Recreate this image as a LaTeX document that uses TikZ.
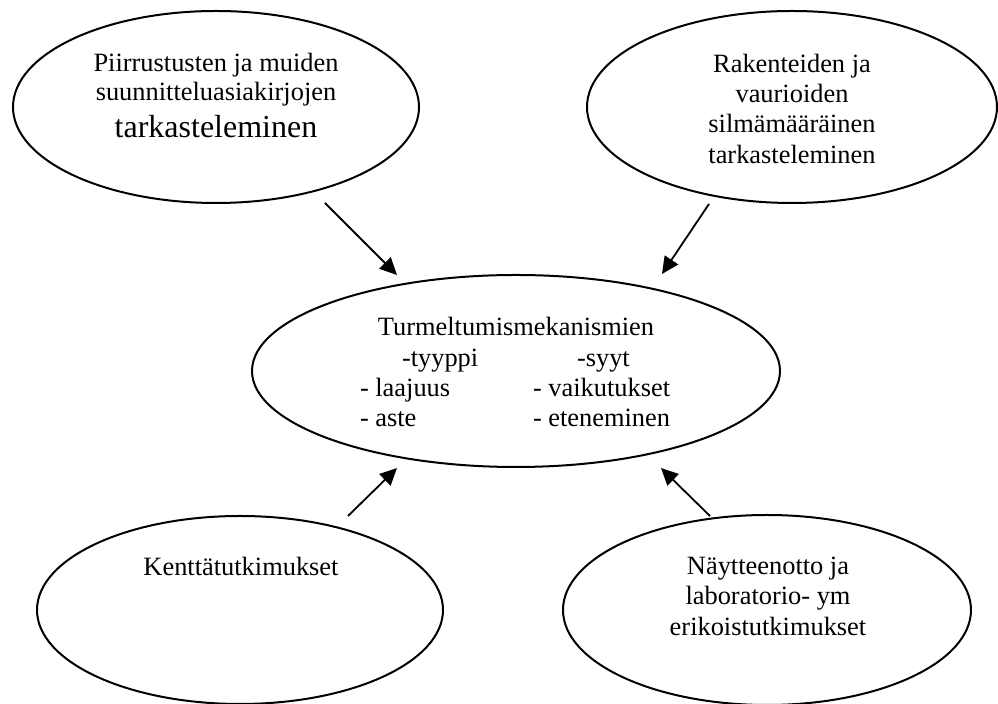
\documentclass[tikz,border=0pt]{standalone}
\usepackage{fontspec}
\setmainfont{Liberation Serif}
\usetikzlibrary{shapes.geometric,arrows.meta}
\begin{document}
\begin{tikzpicture}[x=0.5pt,y=-0.5pt,
  oval/.style={draw=black,line width=1pt,ellipse,inner sep=0pt},
  txt/.style={inner sep=0pt,outer sep=0pt,font=\fontsize{13.2}{15.3}\selectfont,text=black},
  conn/.style={line width=0.9pt,-{Triangle[length=8.5pt,width=8pt]}}]
\useasboundingbox (0,0) rectangle (998,704);
% ellipses
\node[oval,minimum width=203pt,minimum height=96pt] (tl) at (216,107) {};
\node[oval,minimum width=205pt,minimum height=96pt] (tr) at (792,107) {};
\node[oval,minimum width=264pt,minimum height=96pt] (c) at (516,371) {};
\node[oval,minimum width=203pt,minimum height=94pt] (bl) at (240,610) {};
\node[oval,minimum width=204pt,minimum height=95pt] (br) at (767,610) {};
% texts
\node[txt,anchor=base] (tl1) at (216,72) {Piirrustusten ja muiden};
\node[txt,anchor=base] (tl2) at (216,101) {suunnitteluasiakirjojen};
\node[txt,anchor=base,font=\fontsize{16}{18}\selectfont] (tl3) at (216,138) {tarkasteleminen};
\node[txt,anchor=base] (tr1) at (792,73) {Rakenteiden ja};
\node[txt,anchor=base] (tr2) at (792,103) {vaurioiden};
\node[txt,anchor=base] (tr3) at (792,133) {silmämääräinen};
\node[txt,anchor=base] (tr4) at (792,164) {tarkasteleminen};
\node[txt,anchor=base] (c0) at (516,336) {Turmeltumismekanismien};
\node[txt,anchor=base west] (c1) at (402,367) {-tyyppi};
\node[txt,anchor=base west] (c2) at (577,367) {-syyt};
\node[txt,anchor=base west] (c3) at (360,397) {- laajuus};
\node[txt,anchor=base west] (c4) at (533,397) {- vaikutukset};
\node[txt,anchor=base west] (c5) at (360,427) {- aste};
\node[txt,anchor=base west] (c6) at (533,427) {- eteneminen};
\node[txt,anchor=base] (bl1) at (241,576) {Kenttätutkimukset};
\node[txt,anchor=base] (br1) at (768,575) {Näytteenotto ja};
\node[txt,anchor=base] (br2) at (768,605) {laboratorio- ym};
\node[txt,anchor=base] (br3) at (768,636) {erikoistutkimukset};
% arrows
\coordinate (a1s) at (325,203); \coordinate (a1e) at (397,275);
\coordinate (a2s) at (709,204); \coordinate (a2e) at (662,274);
\coordinate (a3s) at (348,516); \coordinate (a3e) at (397,468);
\coordinate (a4s) at (710,516); \coordinate (a4e) at (661,468);
\draw[conn] (a1s) -- (a1e);
\draw[conn] (a2s) -- (a2e);
\draw[conn] (a3s) -- (a3e);
\draw[conn] (a4s) -- (a4e);
\end{tikzpicture}
\end{document}
